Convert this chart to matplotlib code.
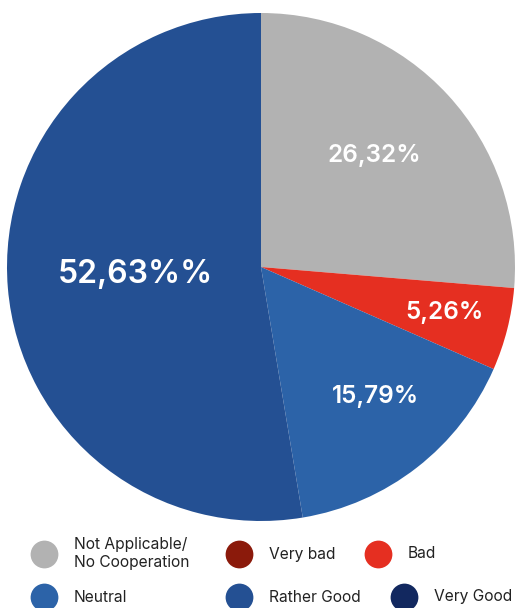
import numpy as np
import matplotlib
matplotlib.use("Agg")
import matplotlib.pyplot as plt

plt.rcParams['font.family'] = ['Inter', 'DejaVu Sans']

# Datos del gráfico
categorias = ['Not Applicable/\nNo Cooperation', 'Very bad', 'Bad',
              'Neutral', 'Rather Good', 'Very Good']
valores = [26.32, 0.0, 5.26, 15.79, 52.63, 0.0]
etiquetas = ['26,32%', '', '5,26%', '15,79%', '52,63%%', '']
colores = ['#b2b2b2', '#8b1a0b', '#e52f21', '#2c63a8', '#245093', '#12285f']

fig = plt.figure(figsize=(5.15, 6.08), dpi=100)
ax = fig.add_axes([7 / 515, 87 / 608, 508 / 515, 508 / 608])

cunas, _ = ax.pie(valores, colors=colores, startangle=90, counterclock=False,
                  radius=1, wedgeprops={'linewidth': 0})
ax.set_xlim(-1, 1)
ax.set_ylim(-1, 1)
ax.set_aspect('equal')
ax.axis('off')

# Etiquetas dentro de cada porción (distancia al centro y giro en grados)
distancias = [0.624, 0, 0.744, 0.683, 0.497, 0]
giros = [1.9, 0, 0.4, 3.6, -1.4, 0]
tamanos = [17.5, 0, 17.5, 17.5, 23, 0]
for cuna, txt, d, g, t in zip(cunas, etiquetas, distancias, giros, tamanos):
    if not txt:
        continue
    ang = np.deg2rad((cuna.theta1 + cuna.theta2) / 2 + g)
    ax.text(d * np.cos(ang), d * np.sin(ang), txt, color='white',
            fontsize=t, fontweight='semibold', ha='center', va='center')

# Leyenda dibujada a mano en un eje inferior (coordenadas en píxeles)
lx = fig.add_axes([0, 0, 1, 87 / 608])
lx.set_xlim(0, 515)
lx.set_ylim(87, 0)
lx.axis('off')
pos_x = [44, 239, 378, 44, 239, 404]
pos_y = [33, 33, 33, 76, 76, 76]
for cat, col, x, y in zip(categorias, colores, pos_x, pos_y):
    lx.scatter(x, y, s=400, color=col, linewidths=0, clip_on=False)
    lx.text(x + 30, y, cat, fontsize=11.2, color='#222222',
            ha='left', va='center', linespacing=1.25, clip_on=False)

fig.savefig('out.png', dpi=100)
